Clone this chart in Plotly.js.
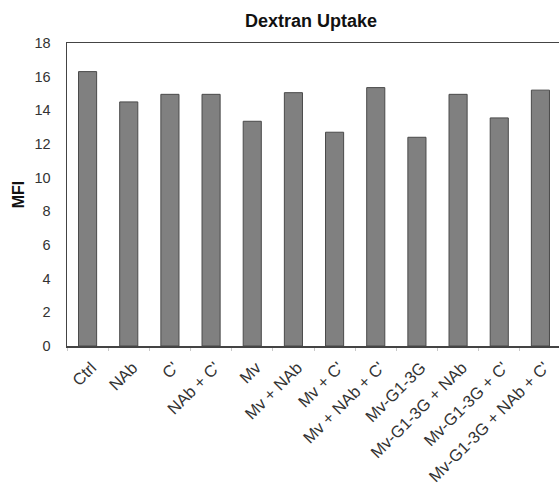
<!DOCTYPE html>
<html>
<head>
<meta charset="utf-8">
<script src="https://cdn.plot.ly/plotly-3.0.1.min.js"></script>
<style>
html, body { margin: 0; padding: 0; overflow: hidden; background: #fff; }
#chart { width: 561px; height: 489px; }
</style>
</head>
<body>
<div id="chart"></div>
<script>
const categories = ["Ctrl", "NAb", "C'", "NAb + C'", "Mv", "Mv + NAb", "Mv + C'", "Mv + NAb + C'", "Mv-G1-3G", "Mv-G1-3G + NAb", "Mv-G1-3G + C'", "Mv-G1-3G + NAb + C'"];
const mfiValues = [16.3, 14.5, 14.95, 14.95, 13.35, 15.05, 12.7, 15.35, 12.4, 14.95, 13.55, 15.2];
const yTickValues = [0, 2, 4, 6, 8, 10, 12, 14, 16, 18];

const trace = {
  type: 'bar',
  x: categories,
  y: mfiValues,
  marker: { color: '#808080', line: { color: '#4a4a4a', width: 1 } },
  hoverinfo: 'x+y'
};

const layout = {
  width: 561,
  height: 489,
  margin: { l: 67, r: 0, t: 43, b: 143 },
  paper_bgcolor: '#ffffff',
  plot_bgcolor: '#ffffff',
  font: { family: 'Liberation Sans, Arial, sans-serif', size: 14, color: '#333333' },
  bargap: 0.56,
  showlegend: false,
  title: {
    text: 'Dextran Uptake',
    font: { family: 'Liberation Sans, Arial, sans-serif', size: 18, color: '#111111', weight: 'bold' },
    xref: 'container', x: 311 / 561, xanchor: 'center',
    yref: 'container', y: 1 - 21 / 489, yanchor: 'middle'
  },
  xaxis: {
    type: 'category',
    range: [-0.5, 11.5],
    tickangle: -45,
    ticks: 'outside',
    tickson: 'boundaries',
    ticklen: 3,
    tickcolor: '#c8c8c8',
    ticklabelstandoff: 4,
    ticklabelshift: 4,
    tickfont: { size: 16.5, color: '#333333' },
    showline: true,
    linecolor: '#444444',
    linewidth: 1.5,
    mirror: true,
    showgrid: false,
    zeroline: false
  },
  yaxis: {
    range: [0, 18],
    tickvals: yTickValues,
    ticktext: yTickValues.map(String),
    ticks: '',
    ticklabelstandoff: 12,
    tickfont: { size: 14.5, color: '#333333' },
    showline: true,
    linecolor: '#444444',
    linewidth: 1.5,
    mirror: true,
    showgrid: false,
    zeroline: false,
    title: {
      text: 'MFI',
      font: { family: 'Liberation Sans, Arial, sans-serif', size: 16, color: '#111111', weight: 'bold' },
      standoff: 6
    }
  }
};

Plotly.newPlot('chart', [trace], layout, { displayModeBar: false, staticPlot: true });
</script>
</body>
</html>
